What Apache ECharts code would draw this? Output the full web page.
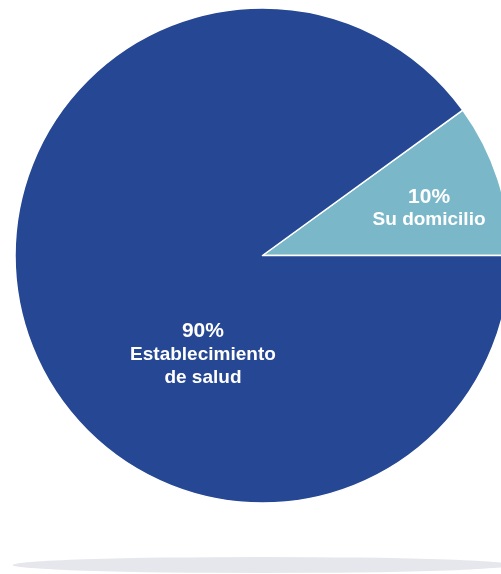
<!DOCTYPE html>
<html>
<head>
<meta charset="utf-8">
<script src="https://cdn.jsdelivr.net/npm/echarts@6/dist/echarts.min.js"></script>
<style>
  html, body { margin: 0; padding: 0; background: #ffffff; }
  #chart { width: 501px; height: 574px; }
</style>
</head>
<body>
<div id="chart"></div>
<script>
// Place of attention, share of cases (%)
const categories = ['Su domicilio', 'Establecimiento\nde salud'];
const shares = [10, 90];
const colors = ['#7AB8C9', '#264793'];

// Label nudges (px) from the default inside position of each slice
const labelShift = [[46, -8], [61, 60]];

const chart = echarts.init(document.getElementById('chart'), null, { renderer: 'canvas' });

const labelFont = 'Liberation Sans, Arial, sans-serif';

chart.setOption({
  animation: false,
  backgroundColor: '#ffffff',
  graphic: [{
    type: 'circle',
    x: 262.5,
    y: 565,
    scaleY: 8 / 250,
    shape: { cx: 0, cy: 0, r: 250 },
    style: { fill: '#E6E7EC' },
    z: -1
  }],
  series: [{
    type: 'pie',
    center: [262.5, 255.5],
    radius: 247.5,
    startAngle: 36,
    clockwise: true,
    silent: true,
    data: categories.map((name, i) => ({
      name: name,
      value: shares[i],
      itemStyle: { color: colors[i] }
    })),
    itemStyle: { borderColor: '#ffffff', borderWidth: 1.5 },
    label: {
      show: true,
      position: 'inside',
      formatter: p => '{pct|' + p.value + '%}\n{name|' + p.name.split('\n').join('}\n{name|') + '}',
      rich: {
        pct: {
          color: '#ffffff', fontFamily: labelFont,
          fontWeight: 'bold', fontSize: 21, lineHeight: 23, align: 'center'
        },
        name: {
          color: '#ffffff', fontFamily: labelFont,
          fontWeight: 'bold', fontSize: 19, lineHeight: 23, align: 'center'
        }
      }
    },
    labelLine: { show: false },
    labelLayout: p => ({ dx: labelShift[p.dataIndex][0], dy: labelShift[p.dataIndex][1] })
  }]
});
</script>
</body>
</html>
